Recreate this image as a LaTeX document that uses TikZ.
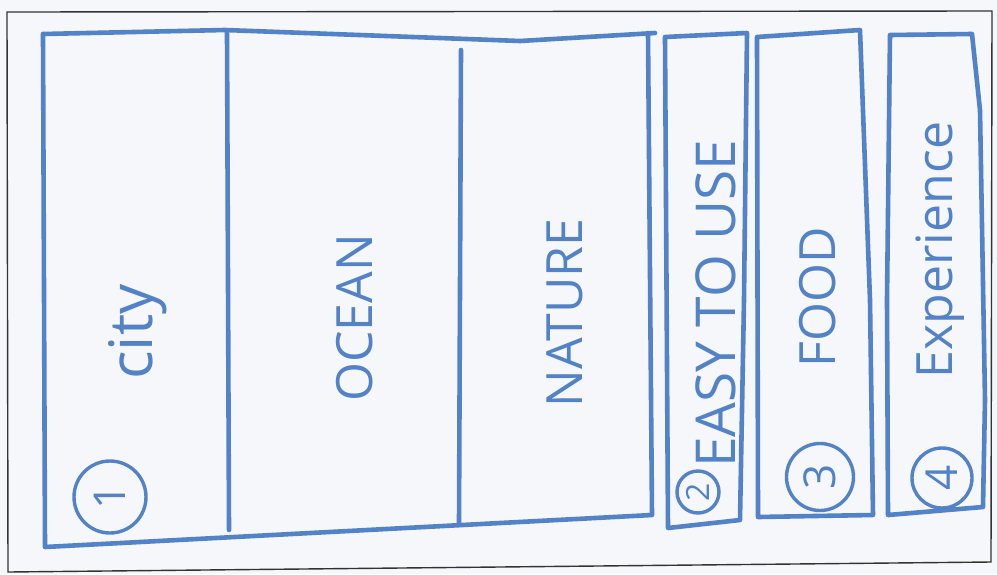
\documentclass[tikz,border=0pt]{standalone}
\usepackage{fontspec}
\setmainfont{Open Sans}
\usetikzlibrary{positioning}
\definecolor{inkblue}{RGB}{82,130,200}
\definecolor{paper}{RGB}{246,247,251}

\begin{document}
\begin{tikzpicture}[
  x=1pt, y=-1pt,
  ink/.style={draw=inkblue, line width=4.6pt, line cap=round, line join=round},
  frame/.style={draw=black!80, line width=1.4pt},
  lbl/.style={text=inkblue, rotate=90, inner sep=0pt, font=\fontsize{50}{60}\selectfont},
  num/.style={circle, draw=inkblue, line width=3.4pt, text=inkblue, rotate=90,
              inner sep=0pt, font=\fontsize{44}{50}\selectfont}
]
\useasboundingbox[fill=paper] (0,0) rectangle (997,574);
\draw[frame] (7,12) -- (992,11) -- (991,562) -- (8,572) -- cycle;

% main board with three columns
\draw[ink] (43,34) -- (225,30) -- (520,41) -- (655,33);
\draw[ink] (43,34) -- (45,547) -- (652,515) -- (648,33);
\draw[ink] (227,32) -- (229,530);
\draw[ink] (461,50) -- (459,525);

% side panels
\draw[ink] (665,37) -- (747,33) -- (744,300) -- (740,520) -- (668,528) -- cycle;
\draw[ink] (757,37) -- (860,30) -- (870,300) -- (873,515) -- (758,517) -- cycle;
\draw[ink] (890,35) -- (972,34) -- (980,110) -- (985,400) -- (983,507) -- (888,515) -- (887,300) -- cycle;

% labels
\node[lbl, font=\fontsize{60}{70}\selectfont] (city) at (138,332) {city};
\node[lbl] (ocean) at (355,318) {OCEAN};
\node[lbl] (nature) at (565,313) {NATURE};
\node[lbl, font=\fontsize{55}{65}\selectfont] (easy) at (716,304) {EASY TO USE};
\node[lbl] (food) at (818,297) {FOOD};
\node[lbl] (exper) at (940,250) {Experience};

% numbers
\node[num, minimum size=72pt] (n1) at (110,497) {1};
\node[num, minimum size=42pt, font=\fontsize{32}{36}\selectfont] (n2) at (698,492) {2};
\node[num, minimum size=67pt] (n3) at (820,477) {3};
\node[num, minimum size=60pt] (n4) at (942,478) {4};
\end{tikzpicture}
\end{document}
